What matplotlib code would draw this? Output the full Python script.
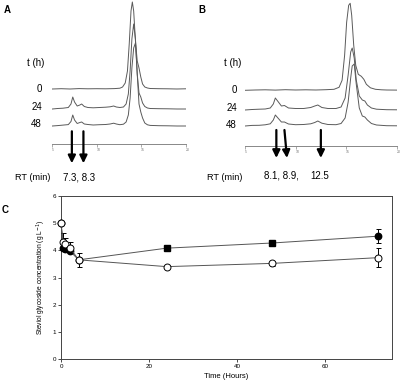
import matplotlib
matplotlib.use("Agg")
import matplotlib.pyplot as plt

plt.rcParams['font.family'] = ['Liberation Sans', 'DejaVu Sans']

W, H = 400, 385

# --- panel A chromatograms (signal in arbitrary units) ---
a_rt_0h = [5, 6, 7, 8, 9, 10, 11, 12, 12.6, 12.9, 13.2, 13.45, 13.65, 13.85, 14.0, 14.15,
           14.35, 14.55, 14.75, 14.95, 15.15, 15.4, 15.7, 16, 17, 18, 19, 20]
a_sig_0h = [0, 0.3, 0, 0.4, 0.2, 0.3, 0.2, 0.4, 0.8, 2, 6, 18, 45, 78, 87, 78,
            48, 28, 21, 12, 5, 2, 1, 0.5, 0.3, 0.2, 0, 0.2]
a_rt_late = [5, 5.6, 6.2, 6.8, 7.1, 7.3, 7.5, 7.8, 8.1, 8.3, 8.6, 9.0, 9.6, 10.3, 11, 11.5,
             11.9, 12.2, 12.6, 13.0, 13.3, 13.55, 13.75, 13.95, 14.15, 14.35, 14.55, 14.75,
             14.95, 15.15, 15.4, 15.7, 16, 17, 18, 19, 20]
a_sig_24h = [0, 0.5, 0.8, 1.5, 5, 12, 7, 3, 4, 5, 2.5, 1.5, 1.2, 1.5, 1.8, 2.2,
             3, 2, 1.5, 2, 5, 15, 38, 70, 85, 70, 35, 16,
             12, 6, 2.5, 1, 0.5, 0.3, 0.2, 0, 0]
a_sig_48h = [0, 0.4, 0.9, 1.4, 4.5, 11, 6, 2.5, 3.5, 4, 2, 1.5, 1, 1.3, 1.5, 2,
             2.8, 2, 1.3, 1.8, 4, 11, 28, 58, 78, 83, 52, 22,
             14, 8, 3, 1.2, 0.6, 0.3, 0.2, 0, 0]
a_arrow_rt = [7.2, 8.5]

# --- panel B chromatograms ---
b_rt_0h = [5, 6, 7, 8, 9, 10, 11, 12, 13, 13.8, 14.3, 14.6, 14.85, 15.05, 15.25, 15.4,
           15.55, 15.75, 15.95, 16.2, 16.5, 16.75, 17.0, 17.4, 17.9, 18.5, 19, 20]
b_sig_0h = [0, 0.3, 0.5, 0.2, 0.6, 0.3, 0.5, 0.3, 0.6, 1, 3, 10, 35, 68, 85, 87,
            75, 45, 25, 16, 14, 11, 6, 2.5, 1, 0.5, 0.3, 0.2]
b_rt_late = [5, 5.7, 6.4, 7.0, 7.5, 7.8, 8.0, 8.3, 8.6, 8.9, 9.3, 10, 10.8, 11.5, 11.9, 12.2,
             12.6, 13.2, 14, 14.5, 14.9, 15.2, 15.45, 15.6, 15.8, 16.0, 16.3, 16.6, 16.85,
             17.1, 17.5, 18, 19, 20]
b_sig_24h = [0, 0.5, 0.8, 1, 2, 6, 12, 8, 4, 4.5, 2, 1.5, 1.5, 2.5, 4, 5,
             2.5, 1.5, 1.5, 3, 12, 35, 58, 62, 52, 30, 14, 10, 9,
             5, 2, 0.8, 0.3, 0.2]
b_sig_48h = [0, 0.6, 0.7, 1.2, 2.2, 6, 11, 7.5, 4, 4, 2, 1.3, 1.5, 2.2, 3.5, 5,
             2.8, 1.5, 1.3, 2.5, 8, 24, 48, 60, 62, 42, 18, 10, 9,
             6, 2.5, 1, 0.3, 0.2]
b_arrow_rt = [8.1, 8.9, 12.5]

times_h = ['0', '24', '48']

# --- panel C ---
time = [0, 0.5, 1, 2, 4, 24, 48, 72]
open_conc = [5.0, 4.32, 4.25, 4.1, 3.65, 3.4, 3.52, 3.73]
open_err = [0, 0.3, 0.22, 0.2, 0.26, 0.02, 0.08, 0.34]
filled_conc = [5.0, 4.1, 4.05, 3.98, 3.65, 4.08, 4.27, 4.52]
filled_err = [0, 0.05, 0.05, 0.08, 0.05, 0.05, 0.05, 0.26]
filled_marker = ['o', 'o', 'o', 'o', 'o', 's', 's', 'o']


def px(x, y):
    return x / W, 1 - y / H


fig = plt.figure(figsize=(W / 100, H / 100), dpi=100)


def chrom_axes(x0, x1, yaxis, offsets, traces, arrow_rt, arrow_top, arrow_bot, slant):
    ax = fig.add_axes([x0 / W, (H - yaxis) / H, (x1 - x0) / W, yaxis / H])
    ax.set_xlim(5, 20)
    ax.set_ylim(0, yaxis)
    for off, (rt, sig) in zip(offsets, traces):
        ax.plot(rt, [s + off for s in sig], color='#5a5a5a', lw=0.7)
    for s in ['top', 'right', 'left']:
        ax.spines[s].set_visible(False)
    ax.spines['bottom'].set_color('#888888')
    ax.spines['bottom'].set_linewidth(0.7)
    ax.set_yticks([])
    ax.set_xticks([5, 10, 15, 20])
    ax.set_xticklabels(['5', '10', '15', '20'], fontsize=2.5, color='#777777', ha='left')
    ax.tick_params(axis='x', length=2.5, width=0.5, color='#888888', pad=0.5)
    for i, r in enumerate(arrow_rt):
        ax.annotate('', xy=(r + slant[i], arrow_bot), xytext=(r, arrow_top),
                    annotation_clip=False,
                    arrowprops=dict(arrowstyle='-|>,head_width=0.22,head_length=0.45',
                                    color='black', lw=1.6, shrinkA=0, shrinkB=0))
    return ax


chrom_axes(52.3, 185.7, 144.3, [55.3, 35.3, 18.3],
           [(a_rt_0h, a_sig_0h), (a_rt_late, a_sig_24h), (a_rt_late, a_sig_48h)],
           a_arrow_rt, 13, -19, [0, 0])
chrom_axes(245, 396.7, 146, [55.7, 36, 20],
           [(b_rt_0h, b_sig_0h), (b_rt_late, b_sig_24h), (b_rt_late, b_sig_48h)],
           b_arrow_rt, 16, -12, [0, 0.25, 0])

# panel texts
fs = 7
fig.text(*px(7, 10), 'A', fontsize=7, fontweight='bold', ha='center', va='center')
fig.text(*px(202, 10), 'B', fontsize=7, fontweight='bold', ha='center', va='center')
fig.text(*px(5, 210), 'C', fontsize=7, fontweight='bold', ha='center', va='center')
for xc in [36, 233]:
    fig.text(*px(xc, 63), 't (h)', fontsize=fs, ha='center', va='center')
for lab, yc in zip(times_h, [89, 107, 124]):
    fig.text(*px(42, yc), lab, fontsize=fs, ha='right', va='center')
    fig.text(*px(237, yc + 1), lab, fontsize=fs, ha='right', va='center')
fig.text(*px(33, 177), 'RT (min)', fontsize=6.6, ha='center', va='center')
fig.text(*px(225, 177), 'RT (min)', fontsize=6.6, ha='center', va='center')
fig.text(*px(79, 177), '7.3, 8.3', fontsize=fs, ha='center', va='center')
fig.text(*px(281.5, 176), '8.1, 8.9,', fontsize=fs, ha='center', va='center')
fig.text(*px(320, 176), '12.5', fontsize=fs, ha='center', va='center')

# panel C
axc = fig.add_axes([61 / W, (H - 359) / H, 331 / W, 163 / H])
axc.errorbar(time, filled_conc, yerr=filled_err, color='#555555', lw=0.7, ecolor='black',
             elinewidth=0.7, capsize=1.8, capthick=0.7, fmt='-', zorder=2, clip_on=False)
for t, c, m in zip(time, filled_conc, filled_marker):
    axc.plot(t, c, marker=m, ms=4.6, color='black', mfc='black', mec='black',
             zorder=3, clip_on=False)
axc.errorbar(time, open_conc, yerr=open_err, color='#555555', lw=0.7, ecolor='black',
             elinewidth=0.7, capsize=1.8, capthick=0.7, fmt='-o', ms=5, mfc='white',
             mec='black', mew=0.7, zorder=4, clip_on=False)
axc.set_xlim(0, 75.2)
axc.set_ylim(0, 6)
axc.set_xticks([0, 20, 40, 60])
axc.set_yticks(range(7))
axc.tick_params(labelsize=4.5, length=2, width=0.5, pad=1.5)
for s in axc.spines.values():
    s.set_linewidth(0.7)
    s.set_color('#444444')
axc.set_xlabel('Time (Hours)', fontsize=5.5, labelpad=3)
axc.set_ylabel('Steviol glycoside concentration (g L$^{-1}$)', fontsize=4.8, labelpad=3)

fig.savefig('out.png', dpi=100)
